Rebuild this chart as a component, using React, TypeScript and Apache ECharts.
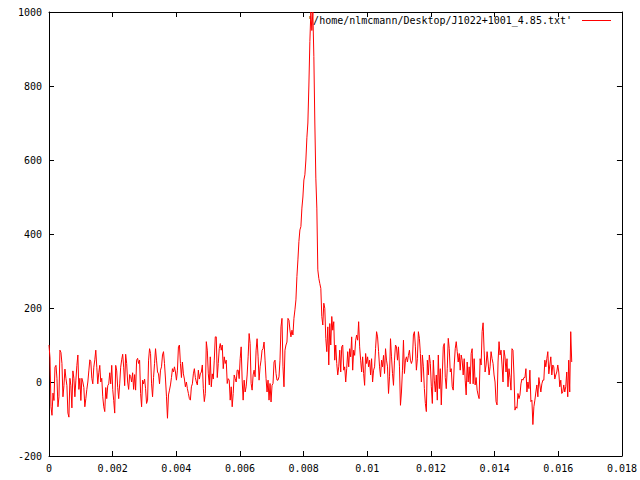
import React, { useEffect, useRef } from "react";
import * as echarts from "echarts";

const SERIES_NAME = "'/home/nlmcmann/Desktop/J1022+1001_4.85.txt'";
// time step between samples (s)
const SAMPLE_STEP = 3.128e-5;
const X_MIN = 0;
const X_MAX = 0.018;
const X_INTERVAL = 0.002;
const Y_MIN = -200;
const Y_MAX = 1000;
const Y_INTERVAL = 200;

// intensity values, in order of time
const segment1 = [
  100, 65, -67, -90, -30, -50, 40, 45, 10, -67,
  -40, 86, 80, 50, -40, -10, 35, 10, -10, -84,
  -95, 10, -10, -70, 30, 10, -40, 5, 45, 73,
  -20, 10, -50, 10, 0, -15, -67, -45, -20, 0,
  30, 60, 55, 10, -5, 40, 60, 86, 40, -5,
  25, 45, 0, 10, -40, -67, -80, -15, -45, -10,
  -5, 25, -5, 45, -20, -50, -84, 45, 30, -15,
  -45, -5, 40, 60, 75, 40, -10, 75, 50, 0,
  -20, 20, 15, 0, 25, -20, 20,
];
const segment2 = [
  -22, 59, 64, 50, 59, -31, -67, 5, -5, 8,
  -18, -58, -49, 59, 90, 77, -5, -40, 12, 50,
  90, 59, 27, 22, -5, 32, 41, 73, 82, 50,
  8, -40, -98, -35, -22, -8, 12, 36, 27, 41,
  27, 5, 32, 95, 100, 50, 12, 54, 22, 8,
  -13, 0, -18, -31, -45, -49, -13, -5, 22, 36,
  12, 0, -8, 32, 8, 22, 27, 46, -18, -53,
  -31, 109, 86, 22, -8, 68, -13, 22, 8, 59,
  122, 122, 12, 50, 90, 104, 86, 100, 36,
];
const segment3 = [
  68, 50, 59, -4, 9, 5, -49, -13, -67, -31,
  19, 9, 0, 32, 32, 9, 63, 95, 5, -49,
  5, -27, -13, 19, 68, 131, 104, -4, -22, 19,
  32, 14, 86, 117, 68, 5, 41, 59, 86, 90,
  108, 59, 9, -27, 5, -49, -4, -54, -9, -4,
  54, 59, 23, 5, 5, 14, 59, 149, 172, 41,
  -13, 86, 100, 108, 172, 167, 140, 122, 140, 127,
  172, 195, 222, 285, 330,
];
const peak = [
  380, 411, 420, 470, 500, 546, 560, 600, 660, 700,
  800, 920, 1000, 950, 1000, 880, 700, 551, 470, 303,
];
const segment4 = [
  280, 266, 253, 177, 154, 213, 199, 118, 82, 149,
  46, 158, 100, 177, 140, 163, 59, 100, 50, 19,
  41, 86, 27, 95, 100, 32, 41, 0, 36, 82,
  41, 90, 68, 122, 32, 86, 72, 113, 127, 113,
  163, 95, 59, 27, 68, 23, -9, 77, 50, 68,
  41, 59, 19, 63, 0, 32, 41, 90, 136, 122,
  82, 41, 14, 59, 41, 72, 23, 90, 59, 41,
  -31, 14, 117, 68, 23, -9, 59, 100, 95, 59,
  95, 41, -63, -27, 32, 113, 23, 59, 68, 54,
  72, 86, 59, 50, 59, 127, 136, 95, 32, 63,
];
const segment5 = [
  136, 118, 77, 0, 73, 41, -18, -58, -80, 59,
  19, 73, 50, -13, -58, 59, 5, -27, 19, -49,
  73, -18, 36, -62, 19, 95, 104, 12, -18, 36,
  118, 90, 27, 36, -13, -22, 46, 90, 109, 82,
  54, 77, 32, 73, 59, 19, 63, 5, -35, 54,
  0, 41, -5, 77, 90, -5, 63, -8, 12, -22,
  -35, -45, 63, 46, 136, 160, 86, 27, 46, 82,
  54, 19, 41, 82, 63, 50, 19, 0, -53, -62,
  54, 109, 73, 86, 46, 0, 86, 68,
];
const segment6 = [
  27, 63, -13, 36, 12, -22, 90, 86, 19, -76,
  -67, -71, -31, -45, -35, -5, 8, 5, 12, 12,
  36, -27, 0, -18, 32, -53, -49, -115, -67, -49,
  -27, -8, -40, 12, -8, -27, -5, 5, 5, 59,
  41, 63, 82, 22, 46, 68, 19, 46, 41, 8,
  19, 27, 46, 27, -13, 5, -31, -27, -8, -27,
  -13, 27, -40, 59, -27, 136, 54,
];

const VALUES = [
  ...segment1,
  ...segment2,
  ...segment3,
  ...peak,
  ...segment4,
  ...segment5,
  ...segment6,
];

const FONT = "'DejaVu Sans Mono', 'Liberation Mono', monospace";

export default function App() {
  const ref = useRef<HTMLDivElement>(null);

  useEffect(() => {
    if (!ref.current) return;
    const chart = echarts.init(ref.current, undefined, { renderer: "svg" });
    const data = VALUES.map((v, i) => [i * SAMPLE_STEP, v]);
    const fmtX = (v: number) => (v === 0 ? "0" : String(parseFloat(v.toFixed(4))));
    const fmtY = (v: number) => String(Math.round(v));
    const axisLine = { show: true, onZero: false, lineStyle: { color: "#000", width: 1 } };
    const tick = { show: true, inside: true, length: 5, lineStyle: { color: "#000" } };
    chart.setOption({
      animation: false,
      backgroundColor: "#fff",
      grid: { left: 49, right: 15, top: 12, bottom: 24, containLabel: false },
      graphic: [
        {
          type: "text",
          right: 68,
          top: 15,
          style: {
            text: SERIES_NAME,
            fontFamily: FONT,
            fontSize: 10,
            fill: "#000",
          },
        },
        {
          type: "line",
          shape: { x1: 582, y1: 20.5, x2: 611, y2: 20.5 },
          style: { stroke: "#ff0000", lineWidth: 1 },
        },
      ],
      xAxis: [
        {
          type: "value",
          min: X_MIN,
          max: X_MAX,
          interval: X_INTERVAL,
          position: "bottom",
          axisLine,
          axisTick: tick,
          splitLine: { show: false },
          axisLabel: { formatter: fmtX, fontFamily: FONT, fontSize: 10, color: "#000", margin: 7 },
        },
        {
          type: "value",
          min: X_MIN,
          max: X_MAX,
          interval: X_INTERVAL,
          position: "top",
          axisLine,
          axisTick: tick,
          splitLine: { show: false },
          axisLabel: { show: false },
        },
      ],
      yAxis: [
        {
          type: "value",
          min: Y_MIN,
          max: Y_MAX,
          interval: Y_INTERVAL,
          position: "left",
          axisLine,
          axisTick: tick,
          splitLine: { show: false },
          axisLabel: { formatter: fmtY, fontFamily: FONT, fontSize: 10, color: "#000", margin: 7 },
        },
        {
          type: "value",
          min: Y_MIN,
          max: Y_MAX,
          interval: Y_INTERVAL,
          position: "right",
          axisLine,
          axisTick: tick,
          splitLine: { show: false },
          axisLabel: { show: false },
        },
      ],
      series: [
        {
          name: SERIES_NAME,
          type: "line",
          xAxisIndex: 0,
          yAxisIndex: 0,
          data,
          symbol: "none",
          showSymbol: false,
          clip: true,
          lineStyle: { color: "#ff0000", width: 1 },
          itemStyle: { color: "#ff0000" },
        },
      ],
    });
    return () => chart.dispose();
  }, []);

  return (
    <div
      ref={ref}
      style={{ position: "absolute", left: 0, top: 0, width: 640, height: 480, background: "#fff" }}
    />
  );
}
